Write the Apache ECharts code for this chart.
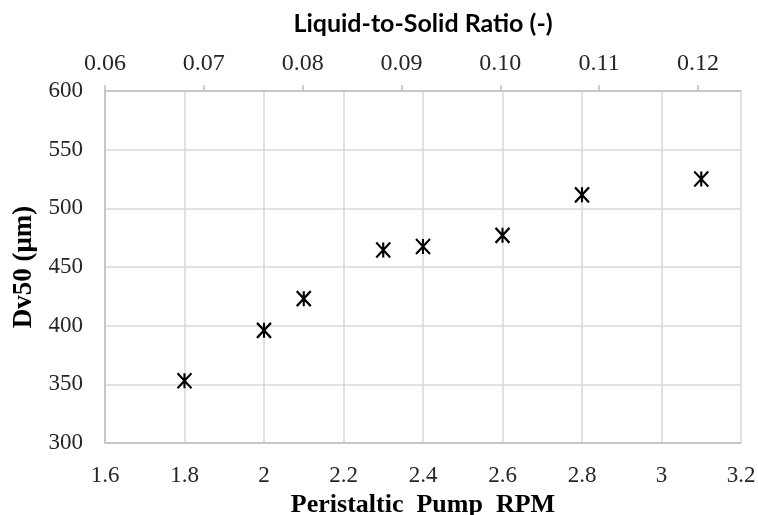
<!DOCTYPE html>
<html>
<head>
<meta charset="utf-8">
<script src="https://cdn.jsdelivr.net/npm/echarts@6/dist/echarts.min.js"></script>
<style>html,body{margin:0;padding:0;background:#fff;}#c{width:758px;height:515px;}</style>
</head>
<body>
<div id="c"></div>
<script>
var rpm = [1.8, 2.0, 2.1, 2.3, 2.4, 2.6, 2.8, 3.1];
var dv50 = [353, 396, 423, 464.5, 467.5, 477, 511.5, 525];
var topTicks = [0.06, 0.07, 0.08, 0.09, 0.10, 0.11, 0.12];

var chart = echarts.init(document.getElementById('c'), null, {renderer: 'canvas'});
var serif = '"Liberation Serif", "Times New Roman", serif';
var option = {
  animation: false,
  backgroundColor: '#fff',
  grid: {left: 105, right: 17, top: 91, bottom: 72, containLabel: false, outerBoundsMode: 'none'},
  xAxis: [{
    type: 'value', position: 'bottom', min: 1.6, max: 3.2, interval: 0.2,
    name: 'Peristaltic  Pump  RPM', nameLocation: 'middle', nameGap: 49,
    nameTextStyle: {fontFamily: serif, fontWeight: 'bold', fontSize: 26, color: '#000'},
    axisLine: {show: true, lineStyle: {color: '#bfbfbf', width: 1.5}},
    axisTick: {show: false},
    axisLabel: {fontFamily: serif, fontSize: 23, color: '#262626', margin: 21},
    splitLine: {show: true, lineStyle: {color: '#d9d9d9', width: 1.5}}
  }, {
    type: 'value', position: 'top', min: 0.06, max: 0.12436,
    name: 'Liquid-to-Solid Ratio (-)', nameLocation: 'middle', nameGap: 55,
    nameTextStyle: {fontFamily: 'Lato, "Open Sans", sans-serif', fontWeight: 'bold', fontSize: 25, color: '#000'},
    axisLine: {show: true, lineStyle: {color: '#bfbfbf', width: 1.5}},
    axisTick: {show: true, customValues: topTicks, length: 6, inside: false, lineStyle: {color: '#bfbfbf', width: 1.5}},
    axisLabel: {customValues: topTicks, fontFamily: serif, fontSize: 24, color: '#262626', margin: 15,
      formatter: function (v) { return v.toFixed(2); }},
    splitLine: {show: false}
  }],
  yAxis: {
    type: 'value', min: 300, max: 600, interval: 50,
    name: 'Dv50 (μm)', nameLocation: 'middle', nameGap: 67,
    nameTextStyle: {fontFamily: serif, fontWeight: 'bold', fontSize: 27, color: '#000'},
    axisLine: {show: true, lineStyle: {color: '#bfbfbf', width: 1.5}},
    axisTick: {show: false},
    axisLabel: {fontFamily: serif, fontSize: 23, color: '#262626', margin: 22},
    splitLine: {show: true, lineStyle: {color: '#d9d9d9', width: 1.5}}
  },
  series: [{
    type: 'scatter',
    xAxisIndex: 0,
    data: rpm.map(function (x, i) { return [x, dv50[i]]; }),
    symbol: 'path://M0,0L10,10M0,10L10,0M5,0L5,10',
    symbolSize: [14, 15],
    itemStyle: {color: 'rgba(0,0,0,0)', borderColor: '#000', borderWidth: 2.2, opacity: 1}
  }]
};
chart.setOption(option);
</script>
</body>
</html>
